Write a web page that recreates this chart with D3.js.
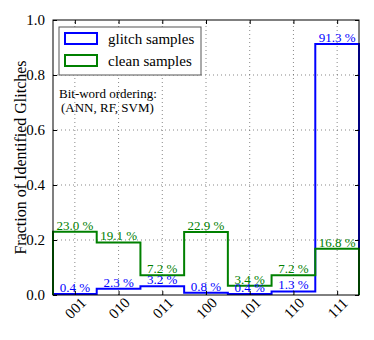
<!DOCTYPE html>
<html>
<head>
<meta charset="utf-8">
<script src="https://cdn.jsdelivr.net/npm/d3@7"></script>
<style>
  body { margin: 0; background: #fff; }
  svg text { font-family: "Liberation Serif", "DejaVu Serif", serif; }
</style>
</head>
<body>
<div id="chart"></div>
<script>
// --- data ---
const categories = ["001", "010", "011", "100", "101", "110", "111"];
const glitchValues = [0.004, 0.023, 0.032, 0.008, 0.004, 0.013, 0.913];
const cleanValues = [0.230, 0.191, 0.072, 0.229, 0.034, 0.072, 0.168];
const yTicks = [0.0, 0.2, 0.4, 0.6, 0.8, 1.0];
const seriesNames = ["glitch samples", "clean samples"];
const seriesColors = ["#0000ff", "#008000"];

// --- layout ---
const width = 374, height = 340;
const margin = { top: 20, right: 15, bottom: 45, left: 53 };

const svg = d3.select("#chart").append("svg")
  .attr("width", width).attr("height", height);

const x = d3.scaleLinear()
  .domain([0.5, categories.length + 0.5])
  .range([margin.left, width - margin.right]);
const y = d3.scaleLinear()
  .domain([0, 1])
  .range([height - margin.bottom, margin.top]);

const plot = svg.append("g");

// grid (dotted)
plot.append("g").selectAll("line.gx")
  .data(categories)
  .join("line")
  .attr("x1", (d, i) => x(i + 1)).attr("x2", (d, i) => x(i + 1))
  .attr("y1", y(0)).attr("y2", y(1))
  .attr("stroke", "#555").attr("stroke-width", 0.7)
  .attr("stroke-dasharray", "1,3");
plot.append("g").selectAll("line.gy")
  .data(yTicks.slice(1, -1))
  .join("line")
  .attr("x1", x.range()[0]).attr("x2", x.range()[1])
  .attr("y1", d => y(d)).attr("y2", d => y(d))
  .attr("stroke", "#555").attr("stroke-width", 0.7)
  .attr("stroke-dasharray", "1,3");

// step outline for a series
function stepPath(values) {
  const pts = [[x(0.5), y(0)]];
  values.forEach((v, i) => {
    pts.push([x(i + 0.5), y(v)]);
    pts.push([x(i + 1.5), y(v)]);
  });
  pts.push([x(values.length + 0.5), y(0)]);
  return d3.line()(pts);
}

[glitchValues, cleanValues].forEach((vals, k) => {
  plot.append("path")
    .attr("d", stepPath(vals))
    .attr("fill", "none")
    .attr("stroke", seriesColors[k])
    .attr("stroke-width", 2)
    .attr("stroke-linejoin", "miter");
});

// value labels
[glitchValues, cleanValues].forEach((vals, k) => {
  plot.append("g").selectAll("text")
    .data(vals)
    .join("text")
    .attr("x", (d, i) => x(i + 1))
    .attr("y", d => y(d) - 2)
    .attr("text-anchor", "middle")
    .attr("font-size", 13)
    .attr("fill", seriesColors[k])
    .text(d => (d * 100).toFixed(1) + " %");
});

// axes frame
svg.append("rect")
  .attr("x", x.range()[0]).attr("y", y(1))
  .attr("width", x.range()[1] - x.range()[0])
  .attr("height", y(0) - y(1))
  .attr("fill", "none").attr("stroke", "#000").attr("stroke-width", 1);

// y axis (ticks inside) + mirrored on right
const yAxis = svg.append("g")
  .attr("transform", `translate(${x.range()[0]},0)`)
  .call(d3.axisLeft(y).tickValues(yTicks).tickFormat(d3.format(".1f")).tickSizeInner(-4).tickSizeOuter(0).tickPadding(8));
yAxis.select(".domain").remove();
yAxis.selectAll("text").attr("font-size", 15).attr("font-family", "Liberation Serif, serif").attr("fill", "#000");
const yAxisR = svg.append("g")
  .attr("transform", `translate(${x.range()[1]},0)`)
  .call(d3.axisRight(y).tickValues(yTicks).tickSizeInner(-4).tickSizeOuter(0).tickFormat(""));
yAxisR.select(".domain").remove();

// x axis ticks
const xAxis = svg.append("g")
  .attr("transform", `translate(0,${y(0)})`)
  .call(d3.axisBottom(x).tickValues(d3.range(1, categories.length + 1))
    .tickFormat(d => categories[d - 1]).tickSizeInner(-4).tickSizeOuter(0));
xAxis.select(".domain").remove();
xAxis.selectAll("text")
  .attr("font-size", 15).attr("font-family", "Liberation Serif, serif").attr("fill", "#000")
  .attr("text-anchor", "middle")
  .attr("y", 0).attr("dy", "0.35em")
  .attr("transform", "translate(0,13) rotate(-45)");
const xAxisT = svg.append("g")
  .attr("transform", `translate(0,${y(1)})`)
  .call(d3.axisTop(x).tickValues(d3.range(1, categories.length + 1)).tickSizeInner(-4).tickSizeOuter(0).tickFormat(""));
xAxisT.select(".domain").remove();

// y label
svg.append("text")
  .attr("transform", `translate(20,${(y(0) + y(1)) / 2}) rotate(-90)`)
  .attr("text-anchor", "middle")
  .attr("dy", "0.35em")
  .attr("font-size", 16)
  .text("Fraction of Identified Glitches");

// legend
const legend = svg.append("g");
legend.append("rect")
  .attr("x", 59).attr("y", 27).attr("width", 142).attr("height", 48)
  .attr("fill", "#fff").attr("stroke", "#555").attr("stroke-width", 1);
seriesNames.forEach((name, i) => {
  legend.append("rect")
    .attr("x", 65).attr("y", 33 + i * 22).attr("width", 32).attr("height", 11)
    .attr("fill", "none").attr("stroke", seriesColors[i]).attr("stroke-width", 2);
  legend.append("text")
    .attr("x", 108).attr("y", 44 + i * 22)
    .attr("font-size", 15)
    .text(name);
});

// annotation
svg.append("text").attr("x", 59).attr("y", 98).attr("font-size", 13).text("Bit-word ordering:");
svg.append("text").attr("x", 61).attr("y", 112).attr("font-size", 13).text("(ANN, RF, SVM)");
</script>
</body>
</html>
